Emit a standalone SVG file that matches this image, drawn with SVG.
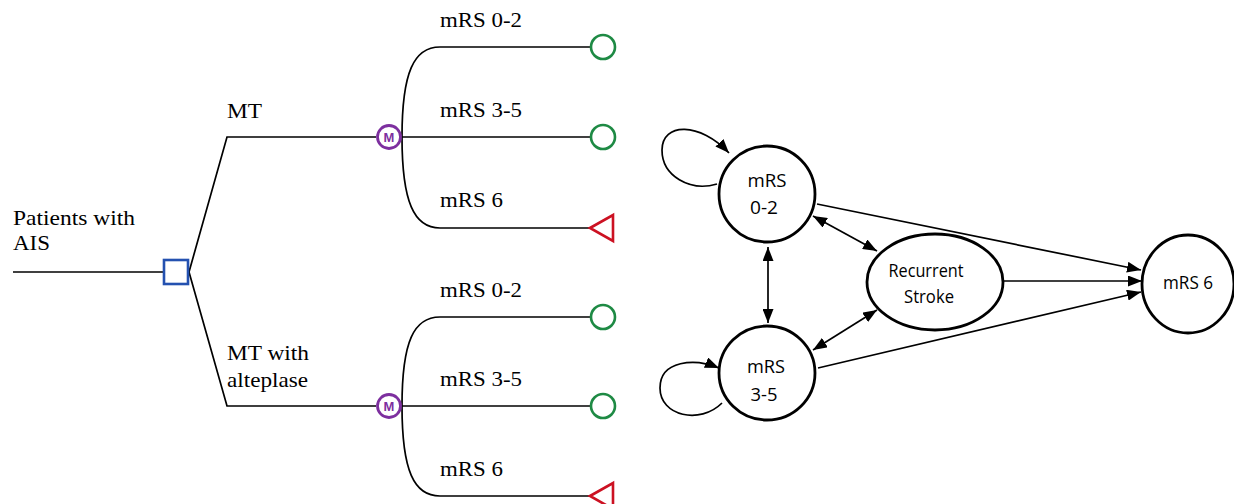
<svg xmlns="http://www.w3.org/2000/svg" width="1234" height="504" viewBox="0 0 1234 504">
<defs>
<marker id="ah" viewBox="0 0 14 11" refX="14" refY="5.5" markerWidth="14" markerHeight="11" markerUnits="userSpaceOnUse" orient="auto-start-reverse">
<path d="M0,0 L14,5.5 L0,11 Z" fill="#000"/>
</marker>
<style>
.tl{fill:none;stroke:#000;stroke-width:1.7}
.tt{font-family:"Liberation Serif",serif;font-size:21px;fill:#000}
.chance{fill:#fff;stroke:#1e8a44;stroke-width:2.6}
.term{fill:#fff;stroke:#cc1122;stroke-width:2.6}
.mk{fill:#fff;stroke:#7d2f9f;stroke-width:2.8}
.mkt{font-family:"Liberation Sans",sans-serif;font-size:13px;font-weight:bold;fill:#7d2f9f;text-anchor:middle}
.st{fill:#fff;stroke:#000;stroke-width:2.8}
.stt{font-family:"Open Sans","Noto Sans",sans-serif;font-size:17.5px;fill:#000;text-anchor:middle}
.e{fill:none;stroke:#000;stroke-width:1.7}
</style>
</defs>
<rect width="1234" height="504" fill="#fff"/>

<g id="tree-connectors">
<path class="tl" d="M13,272 H163"/>
<path class="tl" d="M189,272 L227,137 H376"/>
<path class="tl" d="M189,272 L227,406 H376"/>
<path class="tl" d="M402,137 C402,72 414,47 440,47 H591"/>
<path class="tl" d="M402,137 H591"/>
<path class="tl" d="M402,137 C402,202 414,228 440,228 H590"/>
<path class="tl" d="M402,406 C402,341 414,317 440,317 H591"/>
<path class="tl" d="M402,406 H591"/>
<path class="tl" d="M402,406 C402,471 414,496 440,496 H590"/>
</g>

<g id="decision">
<rect x="164" y="260" width="24" height="24" fill="#fff" stroke="#2451b0" stroke-width="2.6"/>
<text class="tt" x="13" y="225" textLength="122" lengthAdjust="spacingAndGlyphs">Patients with</text>
<text class="tt" x="13" y="250" textLength="37" lengthAdjust="spacingAndGlyphs">AIS</text>
</g>

<g id="markov-mt">
<circle class="mk" cx="389" cy="137" r="11.5"/>
<text class="mkt" x="389" y="141.5">M</text>
<text class="tt" x="227" y="118" textLength="35" lengthAdjust="spacingAndGlyphs">MT</text>
</g>

<g id="markov-mt-alteplase">
<circle class="mk" cx="389" cy="406" r="11.5"/>
<text class="mkt" x="389" y="410.5">M</text>
<text class="tt" x="227" y="360" textLength="82" lengthAdjust="spacingAndGlyphs">MT with</text>
<text class="tt" x="227" y="387" textLength="81" lengthAdjust="spacingAndGlyphs">alteplase</text>
</g>

<g id="mt-mrs02">
<text class="tt" x="440" y="27" textLength="82" lengthAdjust="spacingAndGlyphs">mRS 0-2</text>
<circle class="chance" cx="603" cy="47" r="12"/>
</g>
<g id="mt-mrs35">
<text class="tt" x="440" y="117" textLength="82" lengthAdjust="spacingAndGlyphs">mRS 3-5</text>
<circle class="chance" cx="603" cy="137" r="12"/>
</g>
<g id="mt-mrs6">
<text class="tt" x="440" y="207" textLength="63" lengthAdjust="spacingAndGlyphs">mRS 6</text>
<path class="term" d="M590,228 L613,215 L613,241 Z"/>
</g>
<g id="mta-mrs02">
<text class="tt" x="440" y="297" textLength="82" lengthAdjust="spacingAndGlyphs">mRS 0-2</text>
<circle class="chance" cx="603" cy="317" r="12"/>
</g>
<g id="mta-mrs35">
<text class="tt" x="440" y="386" textLength="82" lengthAdjust="spacingAndGlyphs">mRS 3-5</text>
<circle class="chance" cx="603" cy="406" r="12"/>
</g>
<g id="mta-mrs6">
<text class="tt" x="440" y="476" textLength="63" lengthAdjust="spacingAndGlyphs">mRS 6</text>
<path class="term" d="M590,496 L613,483 L613,509 Z"/>
</g>

<g id="state-connectors">
<path class="e" d="M717,184 C690,192 662,176 662,150 C662,122 700,122 729,153" marker-end="url(#ah)"/>
<path class="e" d="M722,403 C700,425 660,416 660,388 C660,360 695,358 719,368" marker-end="url(#ah)"/>
<path class="e" d="M768,247 V323" marker-start="url(#ah)" marker-end="url(#ah)"/>
<path class="e" d="M813,216 L877,251" marker-start="url(#ah)" marker-end="url(#ah)"/>
<path class="e" d="M877,310 L813,350" marker-start="url(#ah)" marker-end="url(#ah)"/>
<path class="e" d="M817,204 L1141,270" marker-end="url(#ah)"/>
<path class="e" d="M1003,281 L1142,281" marker-end="url(#ah)"/>
<path class="e" d="M818,368 L1141,292" marker-end="url(#ah)"/>
</g>

<g id="s-mrs02">
<ellipse class="st" cx="767" cy="194" rx="48" ry="48"/>
<text class="stt" x="767" y="187" textLength="39" lengthAdjust="spacingAndGlyphs">mRS</text>
<text class="stt" x="764" y="214" textLength="28" lengthAdjust="spacingAndGlyphs">0-2</text>
</g>
<g id="s-mrs35">
<ellipse class="st" cx="767" cy="373" rx="48" ry="47"/>
<text class="stt" x="766" y="373" textLength="38" lengthAdjust="spacingAndGlyphs">mRS</text>
<text class="stt" x="764" y="401" textLength="27" lengthAdjust="spacingAndGlyphs">3-5</text>
</g>
<g id="s-recurrent">
<ellipse class="st" cx="935" cy="282" rx="68" ry="48"/>
<text class="stt" x="926" y="277" textLength="75" lengthAdjust="spacingAndGlyphs">Recurrent</text>
<text class="stt" x="929" y="303" textLength="50" lengthAdjust="spacingAndGlyphs">Stroke</text>
</g>
<g id="s-mrs6">
<ellipse class="st" cx="1188" cy="284" rx="46" ry="49"/>
<text class="stt" x="1188" y="289" textLength="50" lengthAdjust="spacingAndGlyphs">mRS 6</text>
</g>
</svg>
